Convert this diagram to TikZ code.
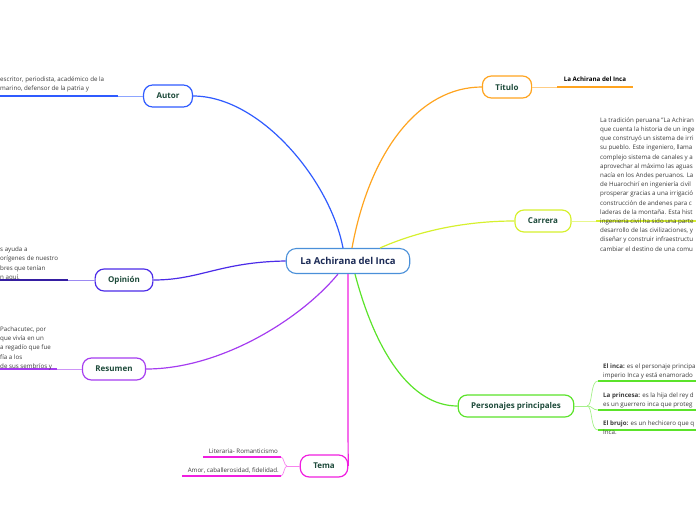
\documentclass[tikz,border=0pt]{standalone}
\usepackage{fontspec}
\setmainfont{Open Sans}
\usepackage{xcolor}
\usetikzlibrary{positioning}
\definecolor{mmroot}{HTML}{4A90D9}
\definecolor{mmautor}{HTML}{2F5BFF}
\definecolor{mmopinion}{HTML}{4B2BE8}
\definecolor{mmresumen}{HTML}{A53CF0}
\definecolor{mmtema}{HTML}{F01FE0}
\definecolor{mmtitulo}{HTML}{FFA41F}
\definecolor{mmcarrera}{HTML}{D6F02E}
\definecolor{mmpers}{HTML}{5BE32A}
\definecolor{mmgreen}{HTML}{1D4A3A}
\definecolor{mmnavy}{HTML}{1B2A55}
\definecolor{mmtext}{HTML}{3A3A3A}

\begin{document}
\begin{tikzpicture}[
    x=1pt, y=-1pt,
    root/.style={draw=mmroot, line width=1.1pt, rounded corners=10pt, fill=white, minimum height=25pt, inner xsep=14pt, font=\fontsize{9.5}{11}\selectfont\bfseries, text=mmnavy},
    branch/.style={draw=#1, line width=1.2pt, rounded corners=9pt, fill=white, minimum height=22pt, inner xsep=13pt, font=\fontsize{8}{10}\selectfont\bfseries, text=mmgreen},
    link/.style={draw=#1, line width=1.2pt},
    twig/.style={draw=#1!55, line width=0.7pt},
    underline/.style={draw=#1, line width=2pt},
    leaf/.style={font=\fontsize{6.2}{9.2}\selectfont, text=mmtext, align=left, inner sep=0pt},
]
\useasboundingbox (0,0) rectangle (696,520);
\clip (0,0) rectangle (696,520);

% Topics
\node[root] (root) at (348,261) {La Achirana del Inca};
\node[branch=mmautor] (autor) at (168,96) {Autor};
\node[branch=mmopinion] (opinion) at (124,280) {Opinión};
\node[branch=mmresumen] (resumen) at (114,369) {Resumen};
\node[branch=mmtema] (tema) at (324,466) {Tema};
\node[branch=mmtitulo] (titulo) at (507,87) {Titulo};
\node[branch=mmcarrera] (carrera) at (543,221) {Carrera};
\node[branch=mmpers] (pers) at (516,406) {Personajes principales};

% Branches
\draw[link=mmautor] ([xshift=-5pt]root.north) .. controls (330,180) and (260,96) .. (autor.east);
\draw[link=mmtitulo] ([xshift=4pt]root.north) .. controls (370,150) and (420,87) .. (titulo.west);
\draw[link=mmcarrera] ([xshift=32pt]root.north) .. controls (430,226) and (480,221) .. (carrera.west);
\draw[link=mmopinion] (root.west) .. controls (220,262) and (200,280) .. (opinion.east);
\draw[link=mmresumen] ([xshift=-10pt]root.south) .. controls (300,320) and (220,369) .. (resumen.east);
\draw[link=mmtema] (root.south) .. controls (348,400) and (348,466) .. (tema.east);
\draw[link=mmpers] ([xshift=7pt]root.south) .. controls (375,350) and (410,406) .. (pers.west);

% Autor (anchor base = last line)
\coordinate (autorEnd) at (118,96);
\coordinate (autorEdge) at (0,96);
\draw[twig=mmautor] (autor.west) -- (autorEnd);
\draw[underline=mmautor] (autorEnd) -- (autorEdge);
\node[leaf, anchor=base west] (autorText) at (0,90.3) {escritor, periodista, académico de la\\ marino, defensor de la patria y};

% Opinion
\coordinate (opinionEnd) at (68,280);
\coordinate (opinionEdge) at (0,280);
\draw[twig=mmopinion] (opinion.west) -- (opinionEnd);
\draw[underline=mmopinion!70!black] (opinionEnd) -- (opinionEdge);
\node[leaf, anchor=base west] (opinionText) at (0,279.3) {s ayuda a\\orígenes de nuestro\\bres que tenían\\n aquí.};

% Resumen
\coordinate (resumenEnd) at (57,369);
\coordinate (resumenEdge) at (0,369);
\draw[twig=mmresumen] (resumen.west) -- (resumenEnd);
\draw[underline=mmresumen] (resumenEnd) -- (resumenEdge);
\node[leaf, anchor=base west] (resumenText) at (0,368.3) {Pachacutec, por\\ que vivía en un\\a regadío que fue\\fía a los\\de sus sembríos y};

% Tema
\coordinate (temaFork) at (287,466);
\coordinate (estiloEnd) at (281,457);
\coordinate (estiloEdge) at (203,457);
\coordinate (valorEnd) at (281,476);
\coordinate (valorEdge) at (182,476);
\draw[twig=mmtema] (tema.west) -- (temaFork);
\draw[twig=mmtema] (temaFork) .. controls (284,466) and (284,457) .. (estiloEnd);
\draw[twig=mmtema] (temaFork) .. controls (284,466) and (284,476) .. (valorEnd);
\draw[underline=mmtema] (estiloEnd) -- (estiloEdge);
\draw[underline=mmtema] (valorEnd) -- (valorEdge);
\node[leaf, anchor=base east] (estilo) at (278,453) {Literaria- Romanticismo};
\node[leaf, anchor=base east] (valor) at (279,472) {Amor, caballerosidad, fidelidad.};

% Titulo
\coordinate (tituloEnd) at (557,87);
\coordinate (tituloEdge) at (633,87);
\draw[twig=mmtitulo] (titulo.east) -- (tituloEnd);
\draw[underline=mmtitulo] (tituloEnd) -- (tituloEdge);
\node[leaf, font=\fontsize{6.2}{9.2}\selectfont\bfseries, text=black, anchor=base] (tituloText) at (595,81.5) {La Achirana del Inca};

% Carrera
\coordinate (carreraEnd) at (596,221);
\coordinate (carreraEdge) at (696,221);
\draw[twig=mmcarrera] (carrera.east) -- (carreraEnd);
\draw[underline=mmcarrera] (carreraEnd) -- (carreraEdge);
\node[leaf, anchor=base west] (carreraText) at (600,251) {La tradición peruana "La Achiran\\que cuenta la historia de un inge\\que construyó un sistema de irri\\su pueblo. Este ingeniero, llama\\complejo sistema de canales y a\\aprovechar al máximo las aguas\\nacía en los Andes peruanos. La\\de Huarochirí en ingeniería civil\\prosperar gracias a una irrigació\\construcción de andenes para c\\laderas de la montaña. Esta hist\\ingeniería civil ha sido una parte\\desarrollo de las civilizaciones, y\\diseñar y construir infraestructu\\cambiar el destino de una comu};

% Personajes
\coordinate (persFork) at (587,406);
\coordinate (incaEnd) at (598,381);
\coordinate (incaEdge) at (696,381);
\coordinate (princesaEnd) at (598,410);
\coordinate (princesaEdge) at (696,410);
\coordinate (brujoEnd) at (598,430);
\coordinate (brujoEdge) at (696,430);
\draw[twig=mmpers] (pers.east) -- (persFork);
\draw[twig=mmpers] (persFork) .. controls (593,406) and (590,381) .. (incaEnd);
\draw[twig=mmpers] (persFork) .. controls (593,406) and (592,410) .. (princesaEnd);
\draw[twig=mmpers] (persFork) .. controls (593,406) and (590,430) .. (brujoEnd);
\draw[underline=mmpers] (incaEnd) -- (incaEdge);
\draw[underline=mmpers] (princesaEnd) -- (princesaEdge);
\draw[underline=mmpers] (brujoEnd) -- (brujoEdge);
\node[leaf, anchor=base west] (inca) at (603,377.3) {\textbf{El inca:} es el personaje principa\\imperio Inca y está enamorado};
\node[leaf, anchor=base west] (princesa) at (603,406.3) {\textbf{La princesa:} es la hija del rey d\\es un guerrero inca que proteg};
\node[leaf, anchor=base west] (brujo) at (603,434.3) {\textbf{El brujo:} es un hechicero que q\\Inca.};
\end{tikzpicture}
\end{document}
